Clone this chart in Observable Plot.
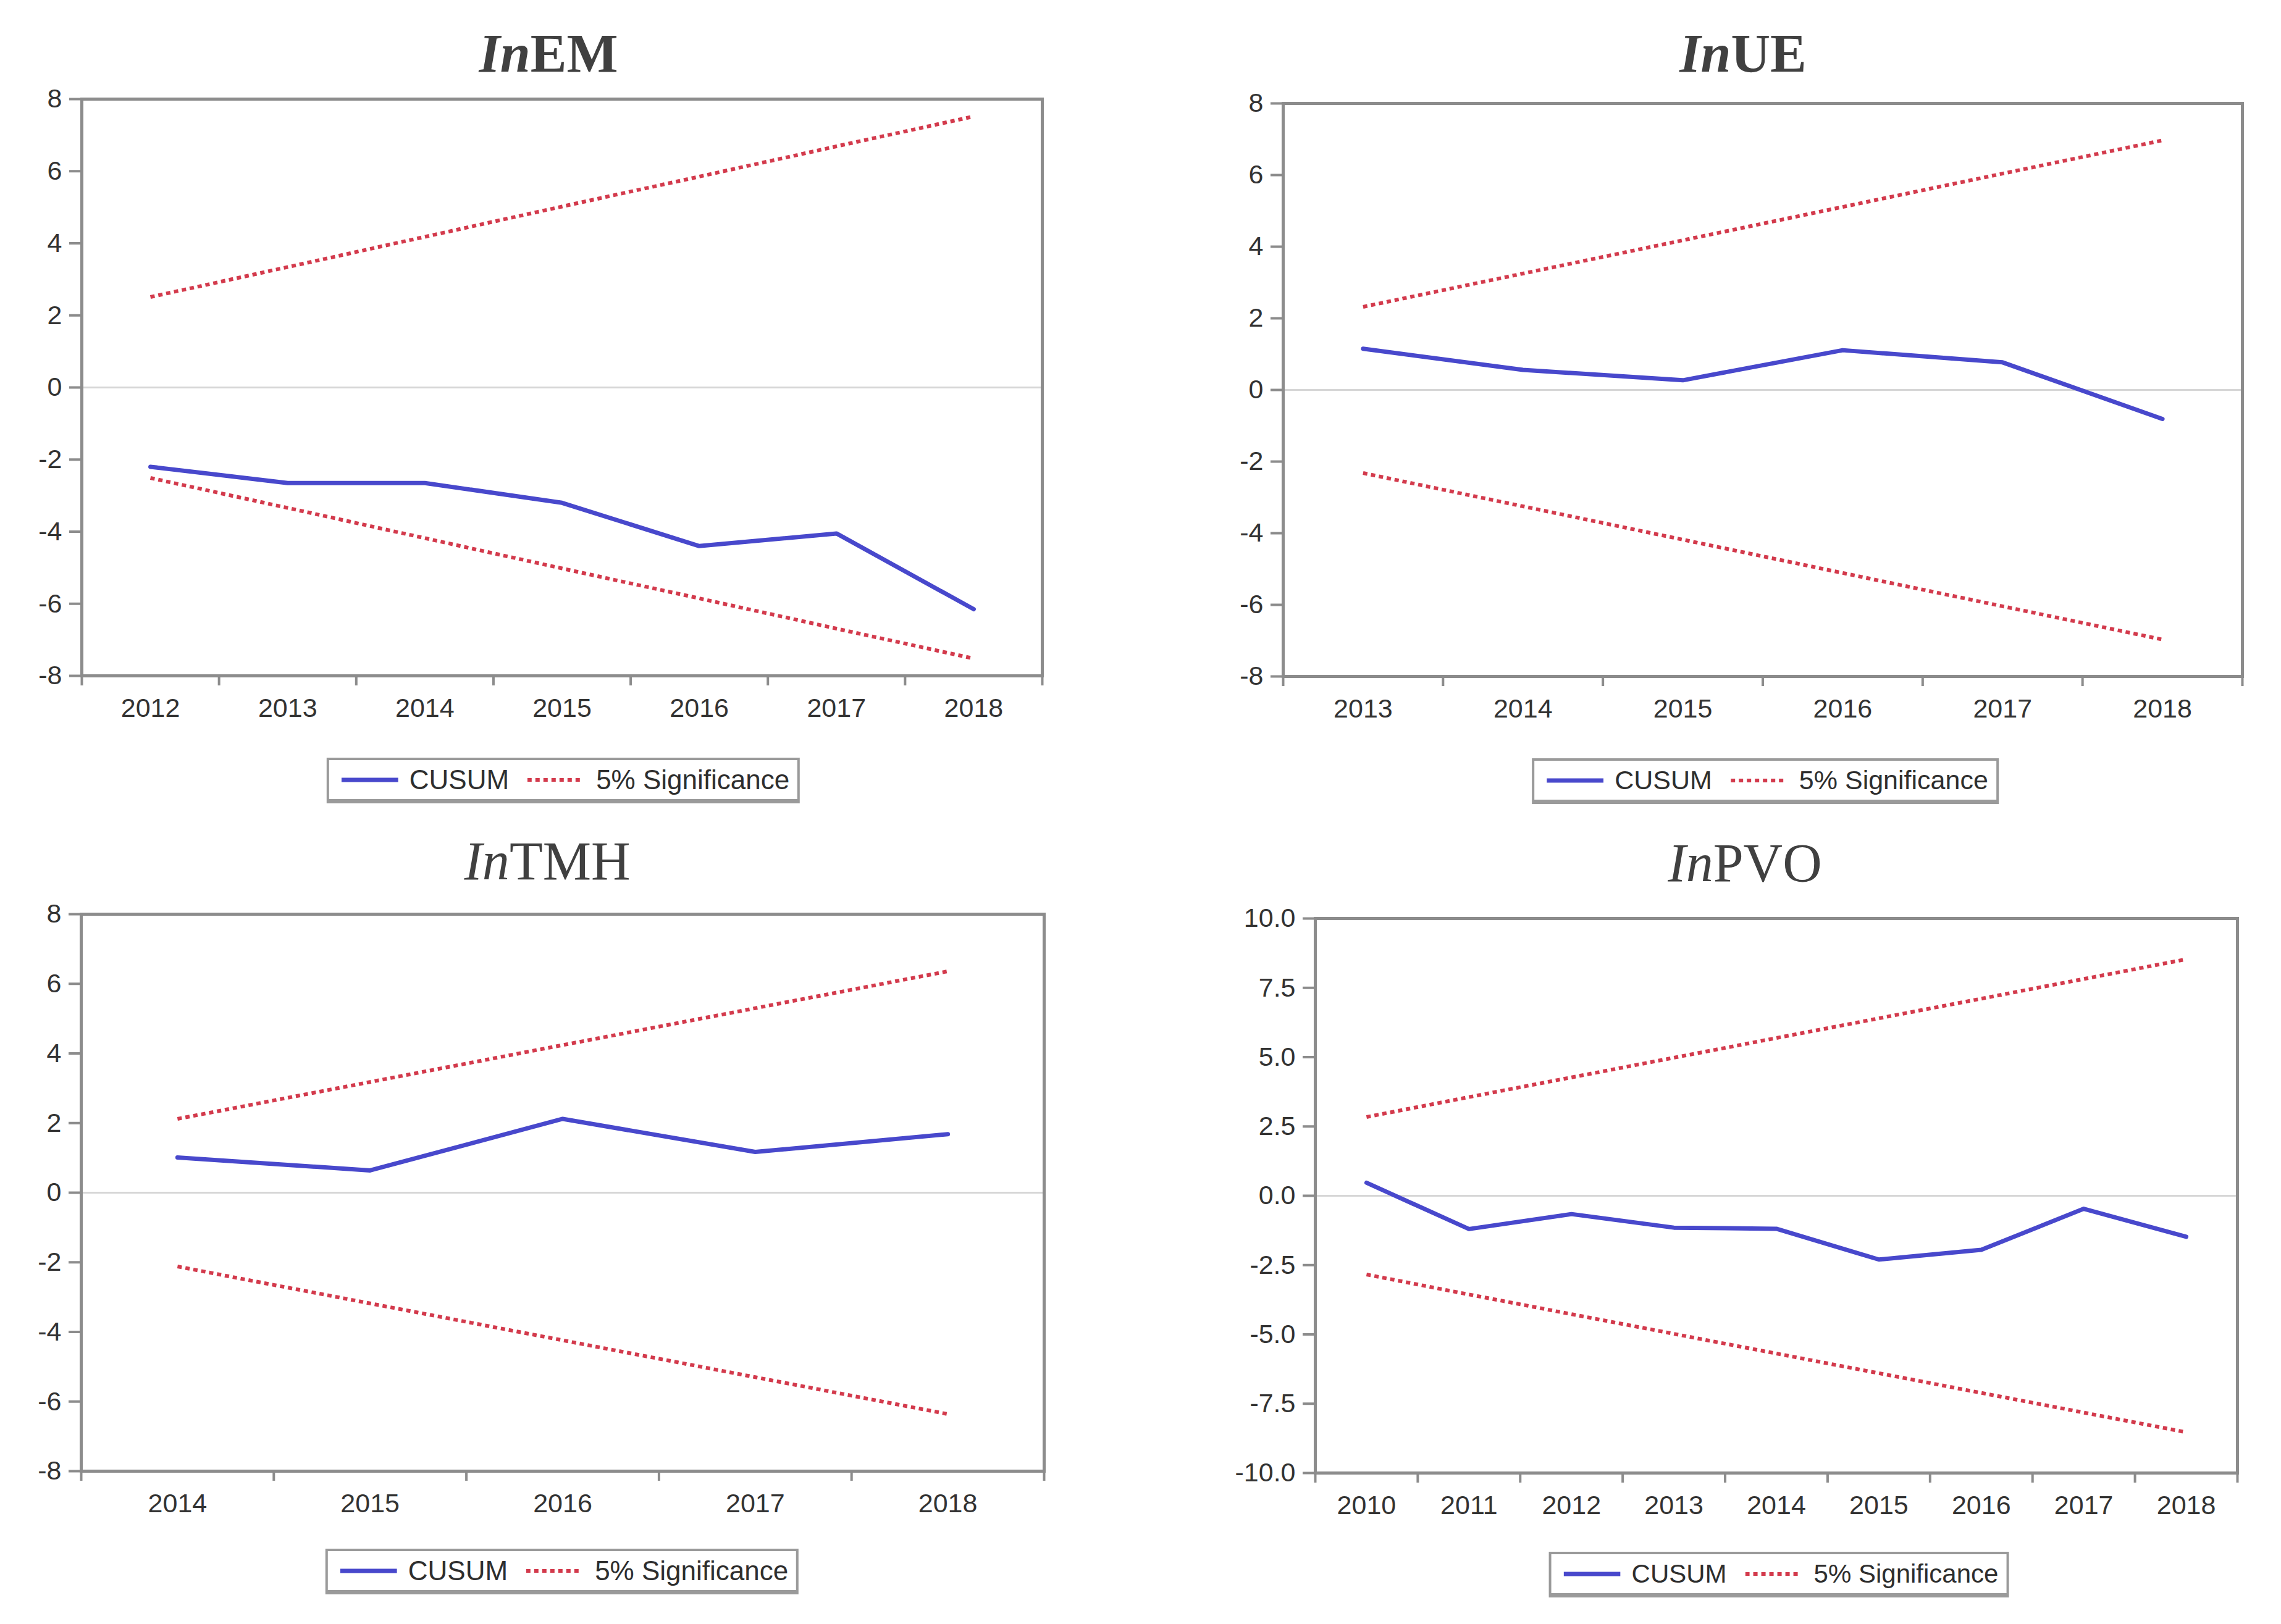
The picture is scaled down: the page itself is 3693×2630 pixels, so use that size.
<!DOCTYPE html>
<html><head><meta charset="utf-8">
<script src="https://cdn.jsdelivr.net/npm/d3@7"></script>
<script src="https://cdn.jsdelivr.net/npm/@observablehq/plot@0.6"></script>
<style>
html,body{margin:0;padding:0;background:#fff;}
#root{position:relative;width:3693px;height:2630px;overflow:hidden;background:#fff;}
.title{position:absolute;font-family:"Liberation Serif",serif;font-size:88px;color:#404040;white-space:nowrap;transform:translateX(-50%);line-height:1;}
.title i{font-style:italic;}
.legend{position:absolute;transform:translateX(-50%);border:4px solid #9a9a9a;border-bottom-width:7px;box-sizing:border-box;height:74px;display:flex;align-items:center;padding:0 13px 0 20px;font-family:"Liberation Sans",Arial,sans-serif;font-size:44px;color:#2e2e2e;white-space:nowrap;background:#fff;}
.legend svg{display:block;}
.plot{position:absolute;}
</style></head><body><div id="root"></div>
<script>
// ---- Data ----
const emYears = [2012, 2013, 2014, 2015, 2016, 2017, 2018];
const emCusum = [-2.2, -2.65, -2.65, -3.2, -4.4, -4.05, -6.15];
const emUpper = [2.51, 3.34, 4.18, 5.02, 5.85, 6.69, 7.52];
const emLower = [-2.51, -3.34, -4.18, -5.02, -5.85, -6.69, -7.52];

const ueYears = [2013, 2014, 2015, 2016, 2017, 2018];
const ueCusum = [1.15, 0.56, 0.27, 1.11, 0.77, -0.81];
const ueUpper = [2.32, 3.25, 4.18, 5.11, 6.04, 6.97];
const ueLower = [-2.32, -3.25, -4.18, -5.11, -6.04, -6.97];

const tmhYears = [2014, 2015, 2016, 2017, 2018];
const tmhCusum = [1.01, 0.64, 2.12, 1.17, 1.68];
const tmhUpper = [2.12, 3.18, 4.24, 5.30, 6.36];
const tmhLower = [-2.12, -3.18, -4.24, -5.30, -6.36];

const pvoYears = [2010, 2011, 2012, 2013, 2014, 2015, 2016, 2017, 2018];
const pvoCusum = [0.47, -1.2, -0.66, -1.15, -1.19, -2.3, -1.95, -0.47, -1.48];
const pvoUpper = [2.84, 3.56, 4.27, 4.98, 5.69, 6.40, 7.11, 7.82, 8.53];
const pvoLower = [-2.84, -3.56, -4.27, -4.98, -5.69, -6.40, -7.11, -7.82, -8.53];

const ticks8 = [-8, -6, -4, -2, 0, 2, 4, 6, 8];
const ticks10 = [-10, -7.5, -5, -2.5, 0, 2.5, 5, 7.5, 10];

const legendLabels = ["CUSUM", "5% Significance"];

// ---- Styles / layout ----
const BLUE = "#4848cc";
const RED = "#d33a4c";
const AXIS = "#8c8c8c";

const panels = [
  {titleIt: "In", titleRest: "EM", bold: true, years: emYears, cusum: emCusum, upper: emUpper, lower: emLower,
   yTicks: ticks8, yDomain: [-8, 8], fmt: d => String(d),
   frame: {l: 132, r: 1687, t: 160, b: 1094}, titleX: 888, titleBase: 117, legX: 912, legY: 1227, legFont: 44},
  {titleIt: "In", titleRest: "UE", bold: true, years: ueYears, cusum: ueCusum, upper: ueUpper, lower: ueLower,
   yTicks: ticks8, yDomain: [-8, 8], fmt: d => String(d),
   frame: {l: 2077, r: 3630, t: 167, b: 1095}, titleX: 2822, titleBase: 117, legX: 2858, legY: 1228, legFont: 43},
  {titleIt: "In", titleRest: "TMH", bold: false, years: tmhYears, cusum: tmhCusum, upper: tmhUpper, lower: tmhLower,
   yTicks: ticks8, yDomain: [-8, 8], fmt: d => String(d),
   frame: {l: 131, r: 1690, t: 1480, b: 2382}, titleX: 886, titleBase: 1425, legX: 910, legY: 2508, legFont: 44},
  {titleIt: "In", titleRest: "PVO", bold: false, years: pvoYears, cusum: pvoCusum, upper: pvoUpper, lower: pvoLower,
   yTicks: ticks10, yDomain: [-10, 10], fmt: d => d.toFixed(1).replace("\u2212", "-"),
   frame: {l: 2129, r: 3622, t: 1487, b: 2385}, titleX: 2825, titleBase: 1428, legX: 2880, legY: 2513, legFont: 42}
];

const root = document.getElementById("root");

function legendEl(p) {
  const div = document.createElement("div");
  div.className = "legend";
  div.style.left = p.legX + "px";
  div.style.top = p.legY + "px";
  div.style.fontSize = p.legFont + "px";
  div.innerHTML =
    `<svg width="92" height="12"><line x1="0" x2="92" y1="6" y2="6" stroke="${BLUE}" stroke-width="7"/></svg>` +
    `<span style="margin-left:18px">${legendLabels[0]}</span>` +
    `<svg width="87" height="12" style="margin-left:30px"><line x1="0" x2="87" y1="6" y2="6" stroke="${RED}" stroke-width="6" stroke-dasharray="7,6"/></svg>` +
    `<span style="margin-left:24px">${legendLabels[1]}</span>`;
  return div;
}

for (const p of panels) {
  const f = p.frame;
  const mL = 132, mT = 50, mB = 90, mR = 70;
  const svgLeft = f.l - mL, svgTop = f.t - mT;
  const width = (f.r - f.l) + mL + mR;
  const height = (f.b - f.t) + mT + mB;
  const rows = p.years.map((y, i) => ({year: y, cusum: p.cusum[i], upper: p.upper[i], lower: p.lower[i]}));
  const bounds = d3.range(p.years.length + 1).map(i => p.years[0] - 0.5 + i);

  const chart = Plot.plot({
    width, height,
    marginLeft: mL, marginRight: mR, marginTop: mT, marginBottom: mB,
    x: {domain: [p.years[0] - 0.5, p.years[p.years.length - 1] + 0.5]},
    y: {domain: p.yDomain},
    style: {fontFamily: "'Liberation Sans', Arial, sans-serif", fontSize: "43px", color: "#333", background: "transparent", overflow: "visible"},
    marks: [
      Plot.ruleY([0], {stroke: "#d6d6d6", strokeWidth: 3}),
      Plot.line(rows, {x: "year", y: "upper", stroke: RED, strokeWidth: 6, strokeDasharray: "7,6", strokeLinecap: "butt"}),
      Plot.line(rows, {x: "year", y: "lower", stroke: RED, strokeWidth: 6, strokeDasharray: "7,6", strokeLinecap: "butt"}),
      Plot.line(rows, {x: "year", y: "cusum", stroke: BLUE, strokeWidth: 7}),
      Plot.frame({stroke: AXIS, strokeWidth: 5}),
      Plot.axisY({ticks: p.yTicks, tickSize: 20, tickPadding: 12, tickFormat: p.fmt, stroke: AXIS, strokeWidth: 4, fill: "#333", label: null}),
      Plot.axisX({ticks: bounds, tickSize: 16, tickFormat: () => "", stroke: AXIS, strokeWidth: 4, label: null}),
      Plot.axisX({ticks: p.years, tickSize: 0, tickPadding: 36, tickFormat: d => String(d), fill: "#333", label: null})
    ]
  });
  chart.classList.add("plot");
  chart.style.left = svgLeft + "px";
  chart.style.top = svgTop + "px";
  chart.style.position = "absolute";
  root.appendChild(chart);

  const t = document.createElement("div");
  t.className = "title";
  t.style.left = p.titleX + "px";
  t.style.top = (p.titleBase - 74) + "px";
  t.style.fontWeight = p.bold ? "bold" : "normal";
  t.innerHTML = `<i>${p.titleIt}</i>${p.titleRest}`;
  root.appendChild(t);

  root.appendChild(legendEl(p));
}
</script></body></html>
